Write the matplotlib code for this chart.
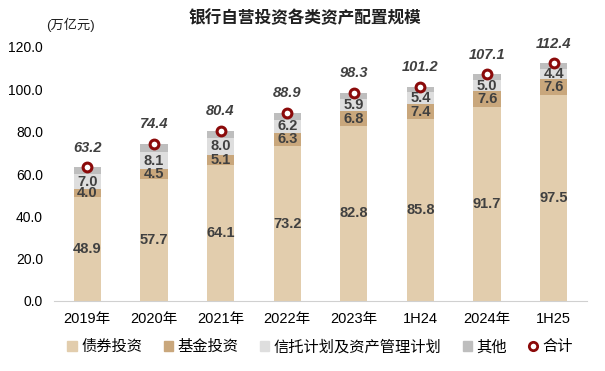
import numpy as np
import matplotlib
matplotlib.use("Agg")
import matplotlib.pyplot as plt
from matplotlib.patches import Patch
from matplotlib.lines import Line2D

plt.rcParams['font.family'] = ['Liberation Sans', 'Noto Sans CJK SC']

# 数据（万亿元）
categories = ['2019年', '2020年', '2021年', '2022年', '2023年', '1H24', '2024年', '1H25']
bonds = [48.9, 57.7, 64.1, 73.2, 82.8, 85.8, 91.7, 97.5]
funds = [4.0, 4.5, 5.1, 6.3, 6.8, 7.4, 7.6, 7.6]
trusts = [7.0, 8.1, 8.0, 6.2, 5.9, 5.4, 5.0, 4.4]
totals = [63.2, 74.4, 80.4, 88.9, 98.3, 101.2, 107.1, 112.4]
others = [round(t - b - f - s, 1) for t, b, f, s in zip(totals, bonds, funds, trusts)]

c_bond = '#E2CDAD'
c_fund = '#C9A77C'
c_trust = '#DEDEDE'
c_other = '#BEBEBE'
c_total = '#8B0A0A'
c_text = '#404040'

fig = plt.figure(figsize=(6.05, 3.71), dpi=100)
ax = fig.add_axes([54 / 605, 1 - 301 / 371, 533 / 605, 254 / 371])

x = np.arange(len(categories))
w = 0.41
b1 = np.array(bonds)
b2 = b1 + np.array(funds)
b3 = b2 + np.array(trusts)

ax.bar(x, bonds, w, color=c_bond, zorder=2)
ax.bar(x, funds, w, bottom=b1, color=c_fund, zorder=2)
ax.bar(x, trusts, w, bottom=b2, color=c_trust, zorder=2)
ax.bar(x, others, w, bottom=b3, color=c_other, zorder=2)
ax.scatter(x, totals, s=40, facecolor='white', edgecolor=c_total, linewidth=2.2, zorder=4)

fs = 10.5
for i in range(len(x)):
    ax.text(x[i], bonds[i] / 2, f'{bonds[i]:.1f}', ha='center', va='center',
            fontsize=fs, fontweight='bold', color=c_text, zorder=5)
    ax.text(x[i], b1[i] + funds[i] / 2, f'{funds[i]:.1f}', ha='center', va='center',
            fontsize=fs, fontweight='bold', color=c_text, zorder=5)
    ax.text(x[i], b2[i] + trusts[i] / 2, f'{trusts[i]:.1f}', ha='center', va='center',
            fontsize=fs, fontweight='bold', color=c_text, zorder=5)
    ax.annotate(f'{totals[i]:.1f}', (x[i], totals[i]), xytext=(0, 14),
                textcoords='offset points', ha='center', va='center',
                fontsize=fs, fontweight='bold', fontstyle='italic', color=c_text)

ax.set_xlim(-0.5, len(x) - 0.5)
ax.set_ylim(0, 120)
ax.set_yticks(np.arange(0, 121, 20))
ax.set_yticklabels([f'{v:.1f}' for v in np.arange(0, 121, 20)], fontsize=10)
ax.set_xticks(x)
ax.set_xticklabels(categories, fontsize=10.5)
ax.tick_params(length=0, pad=8)
ax.tick_params(axis='y', pad=8)
for s in ['top', 'right', 'left']:
    ax.spines[s].set_visible(False)
ax.spines['bottom'].set_color('#D0D0D0')

fig.text(305 / 605, 1 - 18 / 371, '银行自营投资各类资产配置规模', ha='center', va='center',
         fontsize=12, fontweight='bold', color='#202020')
fig.text(70 / 605, 1 - 25 / 371, '(万亿元)', ha='center', va='center', fontsize=9.5, color='#202020')

handles = [
    Patch(color=c_bond, label='债券投资'),
    Patch(color=c_fund, label='基金投资'),
    Patch(color=c_trust, label='信托计划及资产管理计划'),
    Patch(color=c_other, label='其他'),
    Line2D([], [], marker='o', linestyle='none', markerfacecolor='white',
           markeredgecolor=c_total, markeredgewidth=2, markersize=6, label='合计'),
]
fig.legend(handles=handles, loc='center', bbox_to_anchor=(320 / 605, 1 - 347 / 371),
           ncol=5, frameon=False, fontsize=11, handlelength=0.6, handleheight=0.6,
           handletextpad=0.3, columnspacing=1.4)

fig.savefig('out.png', dpi=100)
